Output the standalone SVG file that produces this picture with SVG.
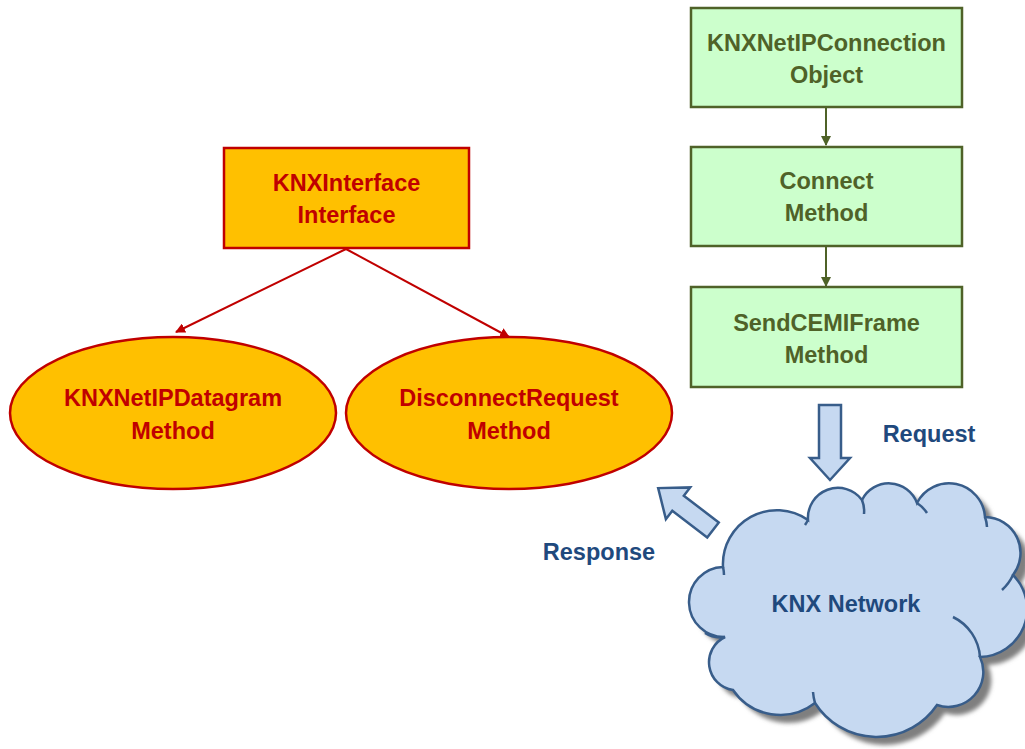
<svg xmlns="http://www.w3.org/2000/svg" width="1025" height="749" viewBox="0 0 1025 749">
<style>
text{font-family:"Liberation Sans",Arial,sans-serif;font-weight:bold;font-size:23.5px;text-anchor:middle}
.red{fill:#C00000}
.grn{fill:#4F6228}
.blu{fill:#1F497D}
.orange{fill:#FFC000;stroke:#C00000;stroke-width:2.5}
.green{fill:#CCFFCC;stroke:#4F6228;stroke-width:2.5}
.block{fill:#C6D9F1;stroke:#385D8A;stroke-width:2.5;stroke-linejoin:miter}
.rl{stroke:#C00000;stroke-width:2;fill:none}
.gl{stroke:#4F6228;stroke-width:2;fill:none}
</style>
<defs>
<marker id="ar" viewBox="0 0 10 10" refX="9" refY="5" markerWidth="5" markerHeight="5" orient="auto"><path d="M0,0 L10,5 L0,10 Z" fill="#C00000"/></marker>
<marker id="ag" viewBox="0 0 10 10" refX="9" refY="5" markerWidth="5" markerHeight="5" orient="auto"><path d="M0,0 L10,5 L0,10 Z" fill="#4F6228"/></marker>
<path id="cloudp" d="M808,520 A30,30 0 0 1 862,500 A30,30 0 0 1 917,503 A36,36 0 0 1 985,517 A36,36 0 0 1 1013,575 A48,48 0 0 1 980,657 A35,35 0 0 1 937,705 A73,73 0 0 1 815,703 A57,57 0 0 1 733,690 A28,28 0 0 1 725,637 A35,35 0 0 1 723,567 A54,54 0 0 1 808,520 Z"/>
<filter id="blur" x="-10%" y="-10%" width="120%" height="120%"><feGaussianBlur stdDeviation="2"/></filter>
</defs>
<rect width="1025" height="749" fill="#FFFFFF"/>
<g id="connectors">
<line class="rl" x1="346" y1="249" x2="176" y2="332" marker-end="url(#ar)"/>
<line class="rl" x1="346" y1="249" x2="509" y2="337" marker-end="url(#ar)"/>
<line class="gl" x1="826" y1="108" x2="826" y2="145" marker-end="url(#ag)"/>
<line class="gl" x1="826" y1="247" x2="826" y2="286" marker-end="url(#ag)"/>
<polygon id="request-arrow" class="block" points="819,405 841,405 841,458 850,458 830,480 810,458 819,458"/>
<polygon id="response-arrow" class="block" points="0,-9.5 44,-9.5 44,-20 69,0 44,20 44,9.5 0,9.5" transform="translate(713,530) rotate(217.4)"/>
<text class="blu" x="929" y="442">Request</text>
<text class="blu" x="599" y="560">Response</text>
</g>
<g id="knxinterface">
<rect class="orange" x="224" y="148" width="245" height="100"/>
<text class="red" x="346.5" y="191">KNXInterface</text>
<text class="red" x="346.5" y="223">Interface</text>
</g>
<g id="knxnetipdatagram">
<ellipse class="orange" cx="173" cy="413" rx="163" ry="76"/>
<text class="red" x="173" y="406">KNXNetIPDatagram</text>
<text class="red" x="173" y="439">Method</text>
</g>
<g id="disconnectrequest">
<ellipse class="orange" cx="509" cy="413" rx="163" ry="76"/>
<text class="red" x="509" y="406">DisconnectRequest</text>
<text class="red" x="509" y="439">Method</text>
</g>
<g id="knxnetipconnection">
<rect class="green" x="691" y="8" width="271" height="99"/>
<text class="grn" x="826.5" y="51">KNXNetIPConnection</text>
<text class="grn" x="826.5" y="83">Object</text>
</g>
<g id="connect">
<rect class="green" x="691" y="147" width="271" height="99"/>
<text class="grn" x="826.5" y="189">Connect</text>
<text class="grn" x="826.5" y="221">Method</text>
</g>
<g id="sendcemiframe">
<rect class="green" x="691" y="287" width="271" height="100"/>
<text class="grn" x="826.5" y="331">SendCEMIFrame</text>
<text class="grn" x="826.5" y="363">Method</text>
</g>
<g id="knxnetwork">
<use href="#cloudp" transform="translate(8,8)" fill="#7F7F7F" filter="url(#blur)"/>
<use href="#cloudp" fill="#C6D9F1" stroke="#385D8A" stroke-width="2.5"/>
<g fill="none" stroke="#385D8A" stroke-width="2.5">
<path d="M862,500 A30,30 0 0 1 864,514"/>
<path d="M917,503 A36,36 0 0 1 927,513"/>
<path d="M985,517 A36,36 0 0 1 987,527"/>
<path d="M1013,575 A48,48 0 0 1 1002,590"/>
<path d="M953,617 A48,48 0 0 1 980,657"/>
<path d="M815,703 A57,57 0 0 1 813,692"/>
<path d="M705,633 A28,28 0 0 0 725,637"/>
<path d="M723,567 A35,35 0 0 1 724,575"/>
<path d="M808,520 A54,54 0 0 1 805,525"/>
</g>
<text class="blu" x="846" y="612">KNX Network</text>
</g>
</svg>
